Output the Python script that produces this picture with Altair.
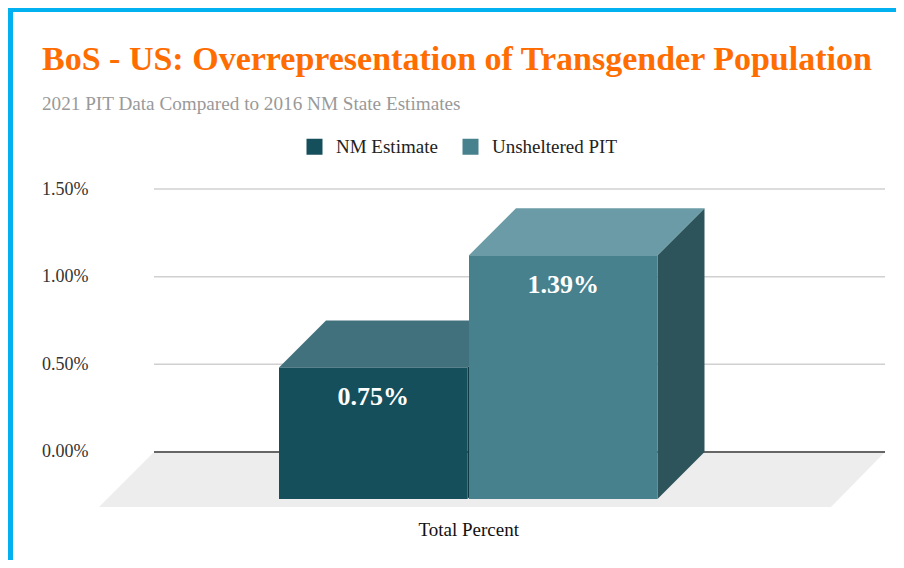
import altair as alt
import pandas as pd

# ---- data ----
series = ["NM Estimate", "Unsheltered PIT"]
values = [0.0075, 0.0139]
category = "Total Percent"
y_ticks = [0.0, 0.005, 0.010, 0.015]

front_colors = ["#164F5C", "#47818E"]
top_colors = ["#41717C", "#6A9BA6"]
side_colors = ["#0E3A44", "#2D535B"]

title_text = "BoS - US: Overrepresentation of Transgender Population"
subtitle_text = "2021 PIT Data Compared to 2016 NM State Estimates"

# ---- layout (styling constants, plot-area units) ----
W, H = 786, 318
X_MAX = 786
Y_MIN, Y_MAX = -0.003137, 0.015
BAR_START = 180
BAR_STEP = 190
BAR_W = 188.5
DX = 47              # depth, x units
DY = 0.00268         # depth, y units
FLOOR_DX = 55
FLOOR_FRONT_W = 732
FONT = "Liberation Serif"

xs = alt.Scale(domain=[0, X_MAX], nice=False, zero=False)
ys = alt.Scale(domain=[Y_MIN, Y_MAX], nice=False, zero=False)

front_rows, top_rows, side_rows, label_rows = [], [], [], []
for i, (s, v) in enumerate(zip(series, values)):
    x0 = BAR_START + i * BAR_STEP
    x1 = x0 + BAR_W
    front_rows.append(dict(series=s, x=x0, x2=x1, y=-DY, y2=v - DY))
    for xx, lo, hi in [(x0, v - DY, v - DY), (x0 + DX, v - DY, v),
                       (x1, v - DY, v), (x1 + DX, v, v)]:
        top_rows.append(dict(series=s, col=top_colors[i], x=xx, y=lo, y2=hi))
    for xx, lo, hi in [(x1, -DY, v - DY), (x1 + DX, 0, v)]:
        side_rows.append(dict(series=s, col=side_colors[i], x=xx, y=lo, y2=hi))
    label_rows.append(dict(series=s, x=(x0 + x1) / 2, y=v - DY, v=v))

floor_rows = [
    dict(x=0, y=Y_MIN, y2=Y_MIN),
    dict(x=FLOOR_DX, y=Y_MIN, y2=0),
    dict(x=FLOOR_FRONT_W, y=Y_MIN, y2=0),
    dict(x=X_MAX, y=0, y2=0),
]
grid_rows = [dict(y=t, x=FLOOR_DX, x2=X_MAX) for t in y_ticks if t > 0]
zero_rows = [dict(y=0.0, x=FLOOR_DX, x2=X_MAX)]

cat_center = (BAR_START + BAR_START + BAR_STEP + BAR_W) / 2

x_axis = alt.Axis(values=[cat_center], labelExpr=f"'{category}'", title=None,
                  domain=False, ticks=False, grid=False,
                  labelFont=FONT, labelFontSize=19, labelColor="#111111",
                  labelPadding=13)
y_axis = alt.Axis(values=y_ticks, format=".2%", title=None, domain=False,
                  ticks=False, grid=False, labelFont=FONT, labelFontSize=18,
                  labelColor="#333333", labelPadding=11)


def X(field="x:Q"):
    return alt.X(field, scale=xs, axis=x_axis)


def Y(field="y:Q", stack=False):
    if stack:
        return alt.Y(field, scale=ys, axis=y_axis, stack=None)
    return alt.Y(field, scale=ys, axis=y_axis)


floor = alt.Chart(pd.DataFrame(floor_rows)).mark_area(color="#EDEDED").encode(
    x=X(), y=Y(stack=True), y2="y2:Q",
)

grid = alt.Chart(pd.DataFrame(grid_rows)).mark_rule(color="#D0D0D0", strokeWidth=1.5).encode(
    x=X(), x2="x2:Q", y=Y(),
)

zero = alt.Chart(pd.DataFrame(zero_rows)).mark_rule(color="#666666", strokeWidth=2).encode(
    x=X(), x2="x2:Q", y=Y(),
)

sides = alt.Chart(pd.DataFrame(side_rows)).mark_area().encode(
    x=X(), y=Y(stack=True), y2="y2:Q",
    color=alt.Color("col:N", scale=None),
    detail="series:N",
)

tops = alt.Chart(pd.DataFrame(top_rows)).mark_area().encode(
    x=X(), y=Y(stack=True), y2="y2:Q",
    color=alt.Color("col:N", scale=None),
    detail="series:N",
)

fronts = alt.Chart(pd.DataFrame(front_rows)).mark_rect().encode(
    x=X(), x2="x2:Q", y=Y(), y2="y2:Q",
    color=alt.Color("series:N",
                    scale=alt.Scale(domain=series, range=front_colors),
                    legend=alt.Legend(title=None, orient="none", legendX=206, legendY=-52,
                                      direction="horizontal", symbolType="square",
                                      symbolSize=256, symbolStrokeWidth=0,
                                      labelFont=FONT, labelFontSize=19,
                                      labelColor="#222222", labelOffset=12,
                                      columnPadding=23)),
)

labels = alt.Chart(pd.DataFrame(label_rows)).mark_text(
    font=FONT, fontSize=26, fontWeight="bold", color="white", baseline="middle", dy=30
).encode(
    x=X(), y=Y(),
    text=alt.Text("v:Q", format=".2%"),
)

text_df = pd.DataFrame([dict(title=title_text, subtitle=subtitle_text)])
title_mark = alt.Chart(text_df).mark_text(
    font=FONT, fontSize=34, fontWeight="bold", color="#FF6D01",
    align="left", baseline="alphabetic",
).encode(x=alt.value(-57), y=alt.value(-119), text="title:N")
subtitle_mark = alt.Chart(text_df).mark_text(
    font=FONT, fontSize=19.2, color="#999999", align="left", baseline="alphabetic",
).encode(x=alt.value(-57), y=alt.value(-79), text="subtitle:N")

border_df = pd.DataFrame([dict(k=1)])
border_left = alt.Chart(border_df).mark_rule(color="#03B0F0", strokeWidth=5).encode(
    x=alt.value(-88.5), y=alt.value(-181), y2=alt.value(H + 53),
)
border_top = alt.Chart(border_df).mark_rule(color="#03B0F0", strokeWidth=4).encode(
    x=alt.value(-91), x2=alt.value(W + 11), y=alt.value(-179),
)

chart = alt.layer(
    floor, grid, zero, sides, tops, fronts, labels,
    title_mark, subtitle_mark, border_left, border_top
).properties(
    width=W, height=H,
    autosize=alt.AutoSizeParams(type="none"),
    padding={"left": 91, "top": 181, "right": 11, "bottom": 53},
).configure_view(stroke=None)

chart.save("out.html", embed_options={"renderer": "svg", "actions": False})
